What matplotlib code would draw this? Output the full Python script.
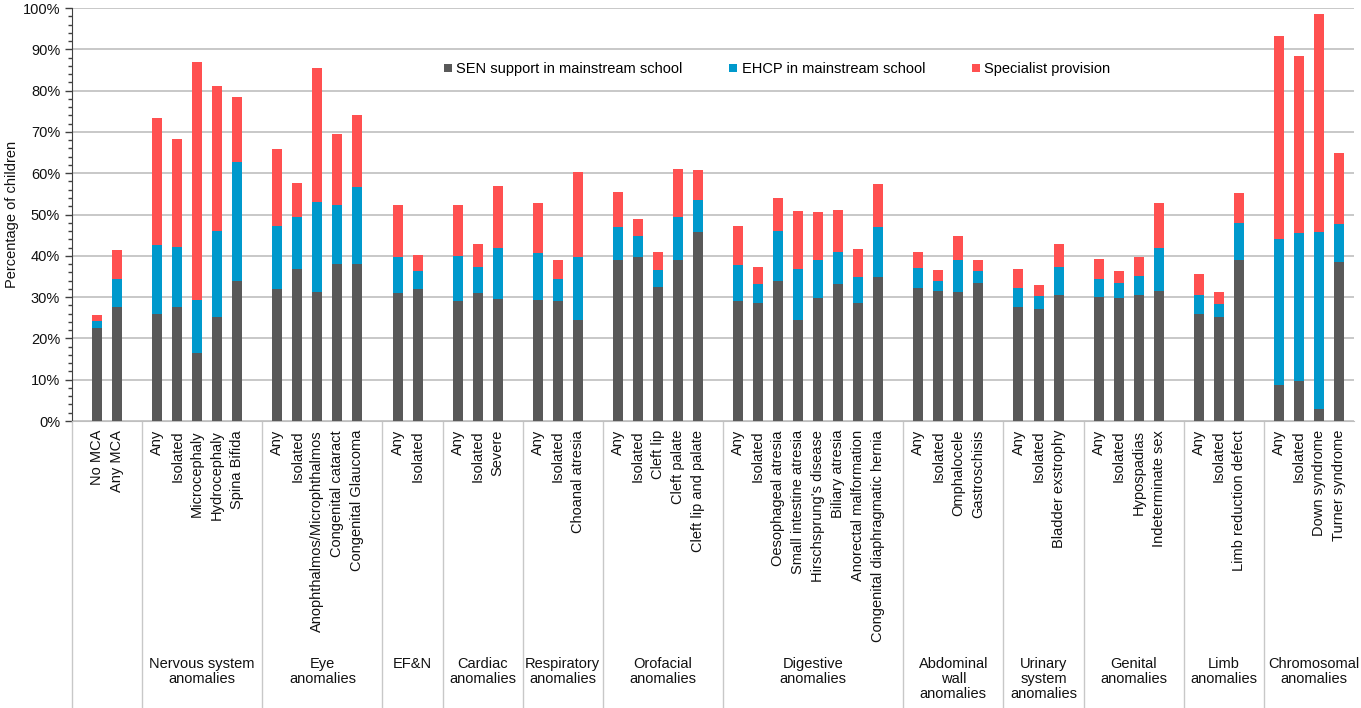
import matplotlib
matplotlib.use("Agg")
import matplotlib.pyplot as plt
from matplotlib.patches import Patch
from matplotlib.ticker import MultipleLocator
import matplotlib.transforms as mtransforms

plt.rcParams['font.family'] = ['Liberation Sans', 'DejaVu Sans']

# ---- data (percent of children) ----
groups = ["", "Nervous system\nanomalies", "Eye\nanomalies", "EF&N",
          "Cardiac\nanomalies", "Respiratory\nanomalies", "Orofacial\nanomalies",
          "Digestive\nanomalies", "Abdominal\nwall\nanomalies",
          "Urinary\nsystem\nanomalies", "Genital\nanomalies", "Limb\nanomalies",
          "Chromosomal\nanomalies"]

labels = [
    ["No MCA", "Any MCA"],
    ["Any", "Isolated", "Microcephaly", "Hydrocephaly", "Spina Bifida"],
    ["Any", "Isolated", "Anophthalmos/Microphthalmos", "Congenital cataract",
     "Congenital Glaucoma"],
    ["Any", "Isolated"],
    ["Any", "Isolated", "Severe"],
    ["Any", "Isolated", "Choanal atresia"],
    ["Any", "Isolated", "Cleft lip", "Cleft palate", "Cleft lip and palate"],
    ["Any", "Isolated", "Oesophageal atresia", "Small intestine atresia",
     "Hirschsprung's disease", "Biliary atresia", "Anorectal malformation",
     "Congenital diaphragmatic hernia"],
    ["Any", "Isolated", "Omphalocele", "Gastroschisis"],
    ["Any", "Isolated", "Bladder exstrophy"],
    ["Any", "Isolated", "Hypospadias", "Indeterminate sex"],
    ["Any", "Isolated", "Limb reduction defect"],
    ["Any", "Isolated", "Down syndrome", "Turner syndrome"],
]

sen_support = [
    22.4, 27.6,
    25.9, 27.6, 16.5, 25.3, 33.8,
    31.9, 36.7, 31.2, 38.1, 37.9,
    31.1, 31.9,
    29.0, 31.0, 29.5,
    29.3, 29.0, 24.5,
    38.9, 39.7, 32.5, 38.9, 45.7,
    29.1, 28.5, 33.8, 24.5, 29.9, 33.2, 28.5, 34.8,
    32.3, 31.4, 31.2, 33.3,
    27.6, 27.0, 30.4,
    30.0, 29.8, 30.6, 31.5,
    25.8, 25.3, 39.0,
    8.7, 9.7, 2.9, 38.6,
]
ehcp = [
    1.9, 6.7,
    16.6, 14.6, 12.9, 20.8, 28.9,
    15.4, 12.6, 21.9, 14.2, 18.7,
    8.7, 4.4,
    10.9, 6.3, 12.5,
    11.3, 5.5, 15.1,
    8.0, 5.1, 4.1, 10.4, 7.7,
    8.7, 4.7, 12.2, 12.4, 9.1, 7.7, 6.3, 12.2,
    4.7, 2.6, 7.9, 3.0,
    4.6, 3.2, 6.8,
    4.5, 3.6, 4.6, 10.4,
    4.8, 3.1, 8.9,
    35.3, 35.7, 42.8, 9.2,
]
specialist = [
    1.3, 7.2,
    30.8, 26.2, 57.5, 34.9, 15.8,
    18.6, 8.4, 32.3, 17.3, 17.5,
    12.4, 3.8,
    12.4, 5.6, 15.0,
    12.3, 4.6, 20.6,
    8.5, 4.0, 4.2, 11.8, 7.4,
    9.4, 4.0, 8.0, 14.0, 11.5, 10.3, 6.9, 10.3,
    4.0, 2.6, 5.8, 2.7,
    4.7, 2.7, 5.6,
    4.8, 2.8, 4.4, 10.8,
    5.0, 2.9, 7.2,
    49.1, 42.9, 52.9, 17.0,
]

series_names = ["SEN support in mainstream school", "EHCP in mainstream school",
                "Specialist provision"]
colors = ["#595959", "#0099CC", "#FF5050"]

# ---- positions: one blank slot between groups ----
xs, flat_labels, group_spans = [], [], []
pos = 0
for grp in labels:
    start = pos
    for lab in grp:
        xs.append(pos)
        flat_labels.append(lab)
        pos += 1
    group_spans.append((start, pos - 1))
    pos += 1  # blank slot

fig = plt.figure(figsize=(13.61, 7.08), dpi=100)
ax = fig.add_axes([72 / 1361, 1 - 421 / 708, 1282 / 1361, 413 / 708])

bottom2 = [a + b for a, b in zip(sen_support, ehcp)]
ax.bar(xs, sen_support, width=0.5, color=colors[0], zorder=3, linewidth=0)
ax.bar(xs, ehcp, width=0.5, bottom=sen_support, color=colors[1], zorder=3, linewidth=0)
ax.bar(xs, specialist, width=0.5, bottom=bottom2, color=colors[2], zorder=3, linewidth=0)

ax.set_xlim(-1.25, xs[-1] + 0.75)
ax.set_ylim(0, 100)
ax.yaxis.set_major_locator(MultipleLocator(10))
ax.yaxis.set_minor_locator(MultipleLocator(2))
ax.set_yticks(range(0, 101, 10))
ax.set_yticklabels([f"{v}%" for v in range(0, 101, 10)], fontsize=10.5, color="#111111")
ax.tick_params(axis='y', which='major', direction='out', length=5, width=1, color="#404040")
ax.tick_params(axis='y', which='minor', direction='out', length=3, width=1, color="#404040")
ax.set_xticks([])
ax.grid(axis='y', color="#BFBFBF", linewidth=1.2, zorder=0)
ax.set_axisbelow(True)
for s in ['top', 'right']:
    ax.spines[s].set_visible(False)
ax.spines['left'].set_color("#404040")
ax.spines['bottom'].set_color("#BFBFBF")
ax.set_ylabel("Percentage of children", fontsize=10.5, color="#111111", labelpad=6)
ax.yaxis.set_label_coords(-0.041, 0.5)

trans = mtransforms.blended_transform_factory(ax.transData, ax.transAxes)
low = -(708 - 421) / 413

# category labels
for x, lab in zip(xs, flat_labels):
    ax.text(x, -9 / 413, lab, transform=trans, rotation=90, ha='center', va='top',
            fontsize=10.5, color="#111111")

# group separators and group labels
seps = [-1.25] + [end + 1.25 for (_, end) in group_spans[:-1]]
for s in seps:
    ax.plot([s, s], [0, low], transform=trans, color="#C8C8C8", lw=1, clip_on=False)
for (start, end), name in zip(group_spans, groups):
    if not name:
        continue
    cx = (start + end) / 2 + 0.25
    ax.text(cx, -(657 - 421) / 413, name, transform=trans, ha='center', va='top',
            fontsize=10.5, color="#111111", linespacing=1.1, multialignment='center')

handles = [Patch(facecolor=c, edgecolor='none') for c in colors]
ax.legend(handles, series_names, loc='center', bbox_to_anchor=(0.55, 0.852),
          ncol=3, frameon=False, fontsize=10.5, handlelength=0.55, handleheight=0.55,
          handletextpad=0.3, columnspacing=3.2)

fig.savefig("out.png", dpi=100)
